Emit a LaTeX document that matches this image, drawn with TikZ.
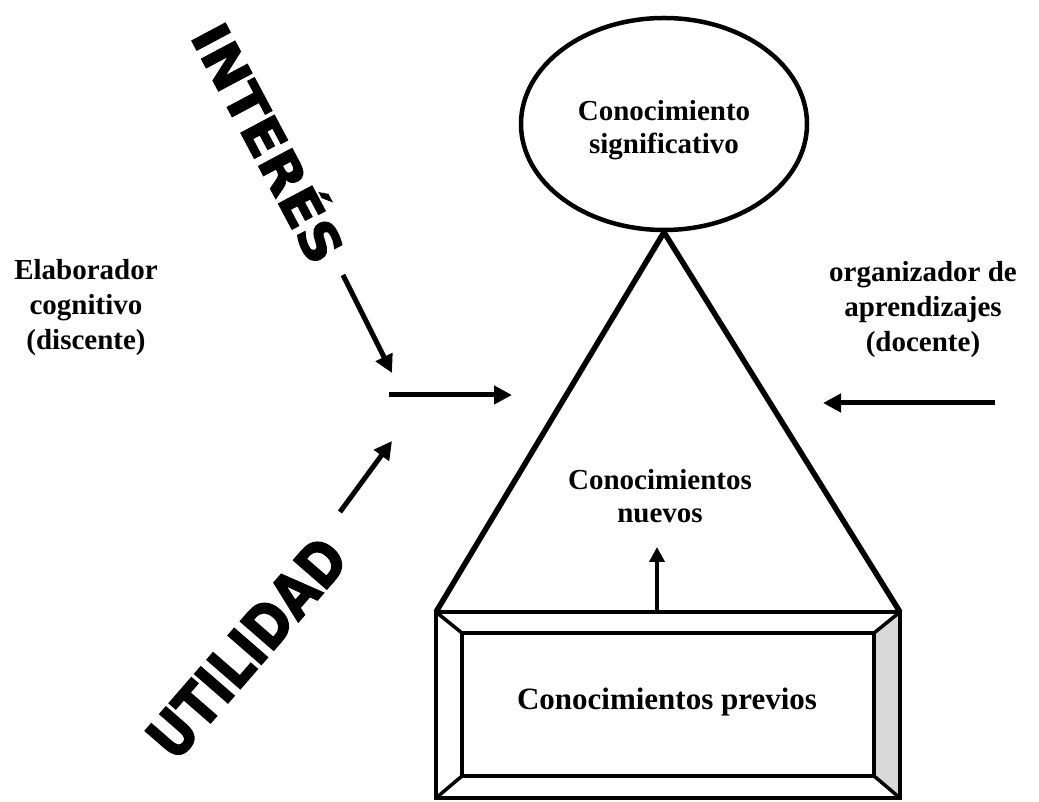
\documentclass[tikz,border=0pt]{standalone}
\usepackage{fontspec}
\setmainfont{Liberation Serif}
\newfontfamily\wafont{DejaVu Sans}[FakeBold=2.5]
\usetikzlibrary{arrows.meta,shapes.geometric}
\tikzset{
  lbl/.style={font=\bfseries\fontsize{29}{35}\selectfont, align=center, inner sep=0pt},
  inlbl/.style={font=\bfseries\fontsize{29}{33}\selectfont, align=center, inner sep=0pt},
  biglbl/.style={font=\bfseries\fontsize{31}{35}\selectfont, align=center, inner sep=0pt},
  arr/.style={line width=5pt, -{Triangle[length=18pt,width=18pt]}},
  thick line/.style={line width=5.5pt, line join=round},
  boxline/.style={line width=3.5pt, line join=miter},
  wordart/.style={inner sep=0pt}
}
\begin{document}
\begin{tikzpicture}[x=1pt,y=1pt]
\useasboundingbox (0,0) rectangle (1039,801);
% ellipse
\node[draw, ellipse, line width=4.5pt, minimum width=286pt, minimum height=212pt, inner sep=0pt] (sig) at (664,677) {};
\node[inlbl] (sigt) at (664,671) {Conocimiento\\significativo};
% box
\coordinate (o1) at (436,189);
\coordinate (o2) at (900,189);
\coordinate (o3) at (900,3);
\coordinate (o4) at (436,3);
\coordinate (i1) at (462,168);
\coordinate (i2) at (874,168);
\coordinate (i3) at (874,25);
\coordinate (i4) at (462,25);
\fill[gray!30] (o2) -- (i2) -- (i3) -- (o3) -- cycle;
\draw[boxline] (o1) -- (o2) -- (o3) -- (o4) -- cycle;
\draw[boxline] (i1) -- (i2) -- (i3) -- (i4) -- cycle;
\draw[boxline] (o1) -- (i1) (o2) -- (i2) (o3) -- (i3) (o4) -- (i4);
\node[biglbl] (prev) at (667,99) {Conocimientos previos};
% triangle
\coordinate (apex) at (sig.south);
\draw[thick line] (o1) -- (apex) -- (o2);
\node[inlbl] (nuev) at (660,305) {Conocimientos\\nuevos};
\coordinate (base) at (657,189);
\draw[line width=4pt, -{Triangle[length=15pt,width=15pt]}] (base) -- (657,254);
% side texts
\node[lbl] (elab) at (86,493) {Elaborador\\cognitivo\\(discente)};
\node[lbl] (org) at (923,491) {organizador de\\aprendizajes\\(docente)};
% arrows
\coordinate (ra1) at (995,398);
\coordinate (ra2) at (823,398);
\draw[arr] (ra1) -- (ra2);
\coordinate (ma1) at (389,406);
\coordinate (ma2) at (512,406);
\draw[arr] (ma1) -- (ma2);
\coordinate (ia1) at (343,526);
\coordinate (ia2) at (392,428);
\draw[arr] (ia1) -- (ia2);
\coordinate (ua1) at (340,289);
\coordinate (ua2) at (392,360);
\draw[arr] (ua1) -- (ua2);
% word art
\node[wordart, rotate=-62] (int) at (272,660) {\resizebox{262pt}{48pt}{\wafont\bfseries INTERÉS}};
\node[wordart, rotate=49] (uti) at (247,153) {\resizebox{268pt}{44pt}{\wafont\bfseries UTILIDAD}};
\end{tikzpicture}
\end{document}
